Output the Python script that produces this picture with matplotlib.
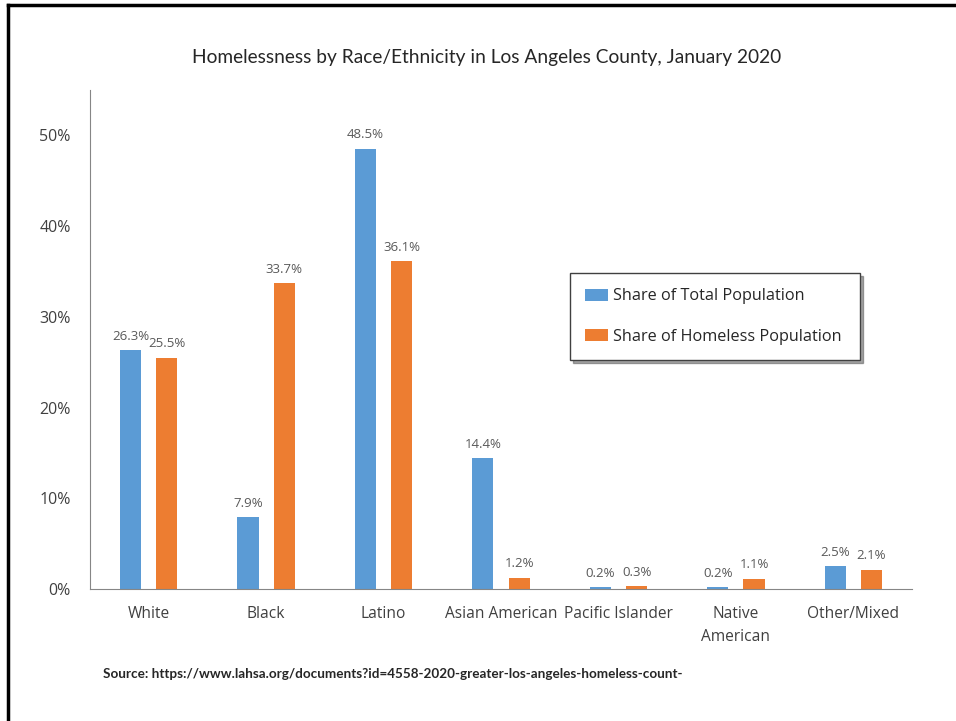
import matplotlib
matplotlib.use("Agg")
import matplotlib.pyplot as plt
import numpy as np
from matplotlib.lines import Line2D
from matplotlib.patches import Rectangle
from matplotlib.legend_handler import HandlerPatch

categories = ["White", "Black", "Latino", "Asian American", "Pacific Islander", "Native\nAmerican", "Other/Mixed"]
total_pop = [26.3, 7.9, 48.5, 14.4, 0.2, 0.2, 2.5]
homeless_pop = [25.5, 33.7, 36.1, 1.2, 0.3, 1.1, 2.1]
series_names = ["Share of Total Population", "Share of Homeless Population"]
yticks = [0, 10, 20, 30, 40, 50]

BLUE = "#5B9BD5"
ORANGE = "#ED7D31"
GRAY_TXT = "#595959"

fig = plt.figure(figsize=(9.56, 7.21), dpi=100)
ax = fig.add_axes([90/956, 1-589/721, (912-90)/956, (589-90)/721])

x = np.arange(len(categories))
w = 0.18
off = 0.155
b1 = ax.bar(x - off, total_pop, w, color=BLUE, label=series_names[0])
b2 = ax.bar(x + off, homeless_pop, w, color=ORANGE, label=series_names[1])

for bars, vals in ((b1, total_pop), (b2, homeless_pop)):
    for r, v in zip(bars, vals):
        ax.annotate(f"{v:.1f}%", (r.get_x() + r.get_width()/2, r.get_height()),
                    xytext=(0, 5.5), textcoords="offset points", ha="center", va="bottom",
                    fontsize=9.5, color=GRAY_TXT, family="Open Sans")

ax.set_xlim(-0.5, len(categories) - 0.5)
ax.set_ylim(0, 55)
ax.set_yticks(yticks)
ax.set_yticklabels([f"{t}%" for t in yticks], family="Open Sans", fontsize=11.5, color="#404040")
ax.set_xticks(x)
ax.set_xticklabels(categories, family="Open Sans", fontsize=11.2, color="#404040", linespacing=1.6)
ax.tick_params(axis="both", length=0)
ax.tick_params(axis="y", pad=14)
ax.tick_params(axis="x", pad=12)
for s in ("top", "right"):
    ax.spines[s].set_visible(False)
ax.spines["left"].set_color("#868686")
ax.spines["bottom"].set_color("#868686")

fig.text(487/956, 1-58/721, "Homelessness by Race/Ethnicity in Los Angeles County, January 2020",
         ha="center", va="center", fontsize=13.8, family="Lato", color="#262626")


def square_patch(legend, orig_handle, xdescent, ydescent, width, height, fontsize):
    sz = 0.62 * fontsize
    return Rectangle((-xdescent + width - sz, -ydescent + (height - sz) / 2), sz, sz)


leg = fig.legend(loc="upper left",
                 bbox_to_anchor=(570/956, 1-355/721, 290/956, 82/721),
                 mode="expand",
                 handler_map={Rectangle: HandlerPatch(patch_func=square_patch)},
                 prop={"family": "Open Sans", "size": 11.7}, handlelength=1.4, handleheight=0.75,
                 handletextpad=0.3, labelspacing=1.5, borderpad=0.95, borderaxespad=0,
                 fancybox=False, shadow=True, edgecolor="#404040", framealpha=1)
leg.get_frame().set_linewidth(1.0)
for t in leg.get_texts():
    t.set_color("#262626")

fig.text(103/956, 1-674/721,
         "Source: https://www.lahsa.org/documents?id=4558-2020-greater-los-angeles-homeless-count-",
         ha="left", va="center", fontsize=9.7, fontweight="bold",
         family="Lato", color="#262626")

# page border (left and top)
fig.add_artist(Line2D([8/956, 8/956], [0, 1-5/721], transform=fig.transFigure, color="black", lw=2.5))
fig.add_artist(Line2D([8/956, 1], [1-5/721, 1-5/721], transform=fig.transFigure, color="black", lw=2.5))

fig.savefig("out.png", dpi=100, facecolor="white")
